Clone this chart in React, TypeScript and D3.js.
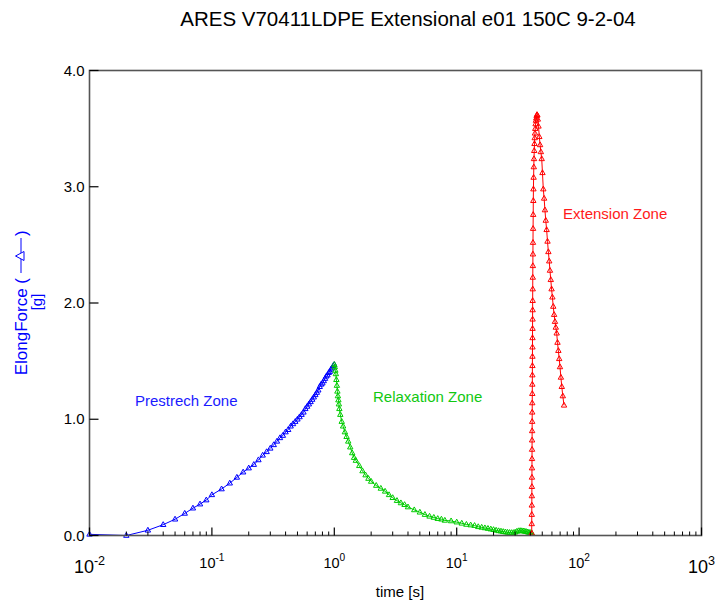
import React from "react";
import * as d3 from "d3";

const title = "ARES V70411LDPE Extensional e01 150C 9-2-04";
const xTickExps = [-2, -1, 0, 1, 2, 3];
const yTicks = [0, 1, 2, 3, 4];

// Prestretch zone (time s, force g)
const prestretchT = [0.01,0.02,0.03,0.04,0.05,0.06,0.07,0.08,0.09,0.10,0.12,0.14,0.16,0.18,0.20,0.22,0.24,0.26,0.28,0.30,0.32,0.34,0.36,0.38,0.40,0.42,0.44,0.46,0.48,0.50,0.52,0.54,0.56,0.58,0.60,0.62,0.64,0.66,0.68,0.70,0.72,0.74,0.76,0.78,0.80,0.82,0.84,0.86,0.88,0.90,0.92,0.94,0.96,0.98,1.00];
const prestretchV = [0.01,0.0,0.045,0.093,0.14,0.19,0.235,0.27,0.305,0.35,0.40,0.45,0.50,0.545,0.58,0.61,0.65,0.69,0.72,0.75,0.78,0.81,0.84,0.86,0.89,0.91,0.94,0.96,0.98,1.00,1.02,1.04,1.06,1.09,1.11,1.13,1.15,1.17,1.19,1.21,1.23,1.25,1.28,1.30,1.31,1.33,1.35,1.37,1.38,1.40,1.41,1.43,1.44,1.46,1.47];

// Relaxation zone
const relaxT = [1.00,1.01,1.02,1.03,1.04,1.05,1.06,1.07,1.08,1.09,1.10,1.12,1.15,1.18,1.22,1.26,1.30,1.35,1.40,1.45,1.50,1.60,1.70,1.80,1.90,2.0,2.2,2.4,2.6,2.8,3.0,3.25,3.5,3.75,4.0,4.5,5.0,5.5,6.0,6.5,7.0,7.5,8.0,9.0,10,11,12,13,14,15,16,17,18,19,20,21,22,23,24,25,26,27,28,29,30,31,32,33,34,35,36,37,38,39,40,41];
const relaxV = [1.47,1.45,1.42,1.39,1.34,1.29,1.24,1.20,1.165,1.13,1.09,1.04,0.98,0.94,0.89,0.85,0.81,0.76,0.71,0.67,0.645,0.60,0.555,0.52,0.49,0.465,0.43,0.405,0.38,0.35,0.325,0.30,0.28,0.265,0.245,0.22,0.20,0.18,0.165,0.155,0.145,0.14,0.13,0.125,0.115,0.105,0.095,0.09,0.085,0.075,0.07,0.065,0.06,0.055,0.05,0.045,0.04,0.037,0.033,0.03,0.027,0.025,0.024,0.024,0.028,0.035,0.04,0.041,0.04,0.038,0.036,0.033,0.03,0.026,0.024,0.022];

// Extension zone
const extensionT = [41.00,41.03,41.06,41.09,41.12,41.15,41.18,41.21,41.24,41.27,41.30,41.33,41.36,41.39,41.42,41.45,41.48,41.51,41.54,41.57,41.60,41.63,41.66,41.69,41.72,41.75,41.80,41.85,41.90,41.95,42.00,42.08,42.16,42.25,42.35,42.50,42.65,42.80,43.00,43.20,43.40,43.60,43.85,44.10,44.40,44.70,45.00,45.30,45.60,46.0,46.6,47.3,48.0,48.7,49.5,50.2,51.0,51.8,52.6,53.4,54.3,55.2,56.1,57.0,57.8,58.7,59.6,60.5,61.5,62.5,63.5,64.5,65.6,66.6,67.7,68.8,69.8,71.0,72.2,73.6,75.3];
const extensionV = [0.02,0.10,0.18,0.26,0.34,0.42,0.50,0.58,0.66,0.74,0.82,0.90,0.98,1.06,1.14,1.22,1.30,1.38,1.46,1.54,1.62,1.70,1.78,1.86,1.94,2.02,2.12,2.22,2.32,2.42,2.52,2.64,2.76,2.88,2.98,3.08,3.17,3.24,3.31,3.37,3.42,3.46,3.50,3.54,3.57,3.59,3.61,3.62,3.615,3.58,3.52,3.43,3.36,3.30,3.24,3.12,2.98,2.90,2.80,2.71,2.63,2.53,2.44,2.36,2.28,2.20,2.12,2.05,1.97,1.90,1.84,1.79,1.74,1.66,1.59,1.52,1.45,1.36,1.28,1.20,1.12];

const series = [
  { name: "Prestrech Zone", t: prestretchT, v: prestretchV, color: "#0000ff" },
  { name: "Relaxation Zone", t: relaxT, v: relaxV, color: "#00cc00" },
  { name: "Extension Zone", t: extensionT, v: extensionV, color: "#ff0000" },
];

const W = 715, H = 603;
const X0 = 89.5, X1 = 701.5, YT = 70.5, YB = 535.5;
const FONT = "'Liberation Sans', Arial, Helvetica, sans-serif";

const tri = (x: number, y: number) =>
  `M${x},${y - 3}L${x + 2.7},${y + 1.8}L${x - 2.7},${y + 1.8}Z`;

export default function App() {
  const x = d3.scaleLog().domain([0.01, 1000]).range([X0, X1]);
  const y = d3.scaleLinear().domain([0, 4]).range([YB, YT]);

  const minorTicks: number[] = [];
  for (let e = -2; e < 3; e++) {
    for (let m = 2; m <= 9; m++) minorTicks.push(m * Math.pow(10, e));
  }

  return (
    <svg width={W} height={H} style={{ position: "absolute", left: 0, top: 0, background: "#fff" }} fontFamily={FONT}>
      <rect x={0} y={0} width={W} height={H} fill="#fff" />
      <text x={408} y={26} textAnchor="middle" fontSize={20.5} fill="#000">{title}</text>

      {/* data */}
      {series.map((s) => {
        const pts = s.t.map((t, i) => [x(t), y(s.v[i])] as [number, number]);
        const path = d3.line()(pts) || "";
        return (
          <g key={s.name}>
            <path d={path} fill="none" stroke={s.color} strokeWidth={1} />
            {pts.map((p, i) => (
              <path key={i} d={tri(p[0], p[1])} fill="none" stroke={s.color} strokeWidth={1} />
            ))}
          </g>
        );
      })}

      {/* frame */}
      <rect x={X0} y={YT} width={X1 - X0} height={YB - YT} fill="none" stroke="#555" strokeWidth={1.6} />

      {/* y ticks */}
      {yTicks.map((v) => (
        <g key={v}>
          <line x1={X0} x2={X0 + 9} y1={y(v)} y2={y(v)} stroke="#000" strokeWidth={1.2} />
          <text x={X0 - 5} y={y(v) + 5} textAnchor="end" fontSize={15} fill="#000">{v.toFixed(1)}</text>
        </g>
      ))}

      {/* x ticks */}
      {minorTicks.map((t, i) => (
        <line key={i} x1={x(t)} x2={x(t)} y1={YB} y2={YB - 4} stroke="#000" strokeWidth={1} />
      ))}
      {xTickExps.map((e, i) => {
        const edge = i === 0 || i === xTickExps.length - 1;
        const fs = edge ? 18 : 14.5;
        return (
          <g key={e}>
            <line x1={x(Math.pow(10, e))} x2={x(Math.pow(10, e))} y1={YB} y2={YB - 8} stroke="#000" strokeWidth={1.2} />
            <text x={x(Math.pow(10, e))} y={edge ? 573 : 568} textAnchor="middle" fontSize={fs} fill="#000">
              10<tspan fontSize={fs * 0.7} dy={-fs * 0.45}>{e}</tspan>
            </text>
          </g>
        );
      })}

      <text x={400} y={597} textAnchor="middle" fontSize={15} fill="#000">time [s]</text>

      {/* y label */}
      <g transform="translate(27,302) rotate(-90)" fill="#0000ff">
        <text x={24} y={0} textAnchor="end" fontSize={17}>ElongForce (</text>
        <line x1={29} x2={64} y1={-6} y2={-6} stroke="#0000ff" strokeWidth={1} />
        <path d="M46,-11.5L50.5,-3L41.5,-3Z" fill="#fff" stroke="#0000ff" strokeWidth={1} />
        <text x={66} y={0} fontSize={17}>)</text>
        <text x={0} y={15} textAnchor="middle" fontSize={15}>[g]</text>
      </g>

      {/* zone labels */}
      <text x={135} y={406} fontSize={15} fill="#1a1aff">Prestrech Zone</text>
      <text x={373} y={402} fontSize={15} fill="#11c811">Relaxation Zone</text>
      <text x={563} y={219} fontSize={15} fill="#ff1a1a">Extension Zone</text>
    </svg>
  );
}
